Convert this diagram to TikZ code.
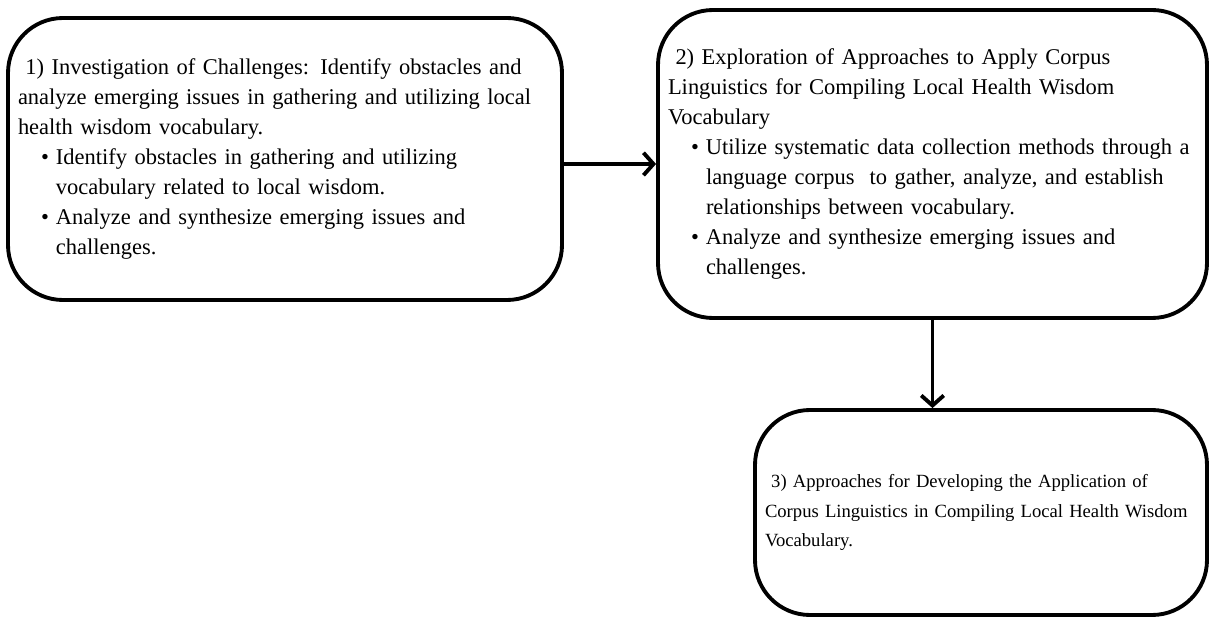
\documentclass[tikz,border=0pt]{standalone}
\usepackage{fontspec}
\setmainfont{Liberation Serif}
\usetikzlibrary{positioning,arrows.meta,calc}

\newcommand{\itembul}{\hspace*{0.46cm}\makebox[0.3cm][l]{\textbullet}}
\newcommand{\itemcont}{\hspace*{0.76cm}}

\begin{document}
\begin{tikzpicture}[
  stage/.style={draw, rounded corners=1.1cm, line width=2.2pt, align=left,
                inner xsep=0.2cm, inner ysep=0pt, fill=white,
                font=\fontsize{12.8}{17}\selectfont},
  flow/.style={-{Straight Barb[length=2mm, width=4.5mm]}, line width=2.2pt},
]
\useasboundingbox (0,0) rectangle (24.18,-12.36);

% ---------------- stages ----------------
\node[stage, text width=10.68cm, minimum height=5.64cm] (inv) at (5.70,-3.18)
  {\ 1) Investigation of Challenges: Identify obstacles and\\
   analyze emerging issues in gathering and utilizing local\\
   health wisdom vocabulary.\\
   \itembul Identify obstacles in gathering and utilizing\\
   \itemcont vocabulary related to local wisdom.\\
   \itembul Analyze and synthesize emerging issues and\\
   \itemcont challenges.};
\node[stage, text width=10.58cm, minimum height=6.16cm] (expl) at (18.65,-3.28)
  {\ 2) Exploration of Approaches to Apply Corpus\\
   Linguistics for Compiling Local Health Wisdom\\
   Vocabulary\\
   \itembul Utilize systematic data collection methods through a\\
   \itemcont language corpus\ \ to gather, analyze, and establish\\
   \itemcont relationships between vocabulary.\\
   \itembul Analyze and synthesize emerging issues and\\
   \itemcont challenges.};
\node[stage, text width=8.64cm, minimum height=4.10cm,
      font=\fontsize{10.6}{17}\selectfont] (dev) at (19.62,-10.25)
  {\ 3) Approaches for Developing the Application of\\
   Corpus Linguistics in Compiling Local Health Wisdom\\
   Vocabulary.\\[0.25cm]};

% ---------------- arrows ----------------
\draw[flow] (inv.east |- expl.west) -- (expl.west);
\draw[flow] (expl.south) -- (expl.south |- dev.north);

\end{tikzpicture}
\end{document}
